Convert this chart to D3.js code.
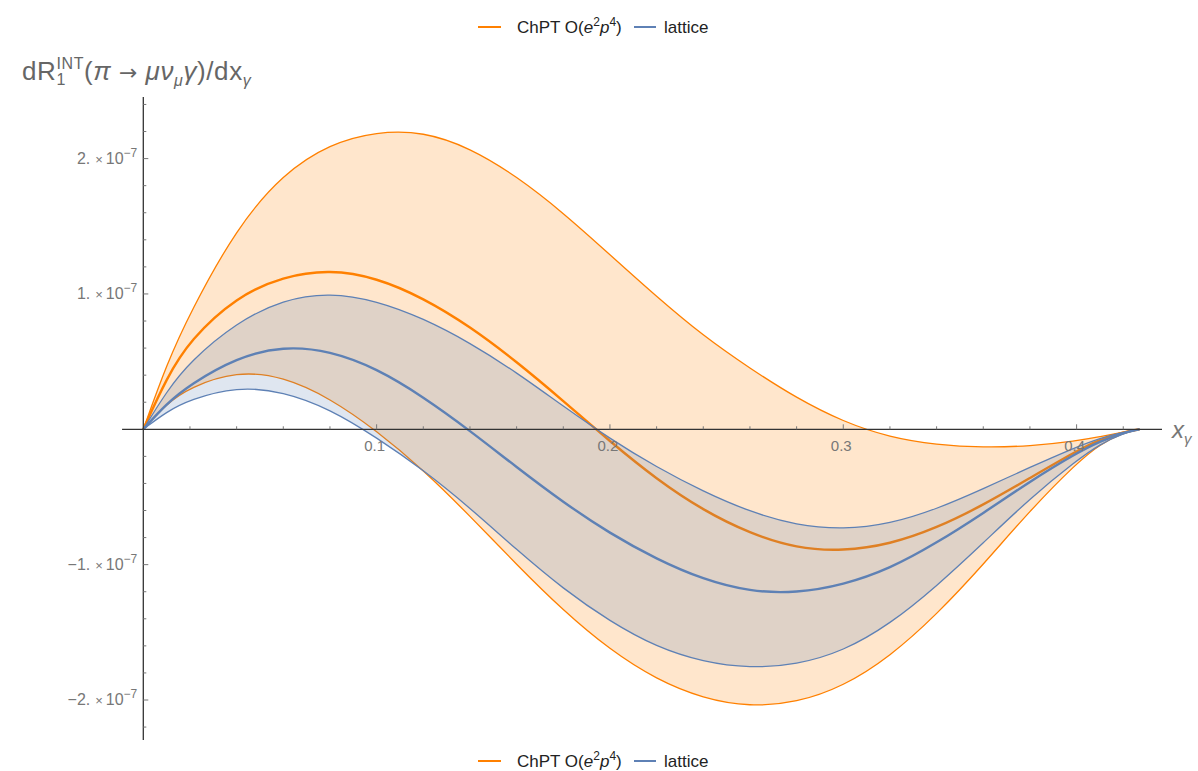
<!DOCTYPE html>
<html lang="en">
<head>
<meta charset="UTF-8">
<title>dR1 INT pi -> mu nu gamma</title>
<script src="https://d3js.org/d3.v7.min.js"></script>
<style>
  body { margin: 0; background: #fff; font-family: "Liberation Sans", Arial, sans-serif; }
  text { font-family: "Liberation Sans", Arial, sans-serif; }
</style>
</head>
<body>
<div id="chart"></div>
<script>
// photon energy fraction x_gamma
const xGamma = [0, 0.01, 0.02, 0.04, 0.06, 0.08, 0.10, 0.12, 0.14, 0.16, 0.18, 0.20,
  0.22, 0.24, 0.26, 0.28, 0.30, 0.32, 0.34, 0.36, 0.38, 0.40, 0.41, 0.42, 0.427];

// values in units of 1e-7
const chptHigh = [0, 0.48, 0.86, 1.49, 1.89, 2.11, 2.20, 2.20, 2.08, 1.87, 1.60, 1.29,
  0.98, 0.69, 0.45, 0.23, 0.055, -0.06, -0.115, -0.135, -0.125, -0.085, -0.055, -0.02, 0];
const chptMid = [0, 0.38, 0.66, 0.98, 1.13, 1.18, 1.12, 0.97, 0.76, 0.50, 0.21, -0.09,
  -0.37, -0.60, -0.77, -0.88, -0.90, -0.85, -0.73, -0.56, -0.36, -0.16, -0.075, -0.02, 0];
const chptLow = [0, 0.19, 0.31, 0.43, 0.39, 0.23, -0.01, -0.30, -0.64, -1.00, -1.34, -1.63,
  -1.85, -1.99, -2.05, -2.02, -1.90, -1.68, -1.37, -1.00, -0.60, -0.25, -0.11, -0.025, 0];

const latHigh = [0, 0.28, 0.50, 0.79, 0.96, 1.01, 0.95, 0.82, 0.64, 0.42, 0.17, -0.07,
  -0.28, -0.46, -0.61, -0.71, -0.74, -0.70, -0.59, -0.44, -0.28, -0.13, -0.065, -0.02, 0];
const latMid = [0, 0.19, 0.33, 0.53, 0.615, 0.58, 0.45, 0.24, -0.01, -0.28, -0.54, -0.77,
  -0.96, -1.11, -1.20, -1.21, -1.15, -1.03, -0.84, -0.62, -0.385, -0.175, -0.09, -0.025, 0];
const latLow = [0, 0.13, 0.22, 0.315, 0.28, 0.15, -0.06, -0.30, -0.58, -0.89, -1.18, -1.42,
  -1.61, -1.72, -1.765, -1.74, -1.64, -1.44, -1.16, -0.84, -0.51, -0.23, -0.11, -0.03, 0];

const xMajor = [0.1, 0.2, 0.3, 0.4];
const xMinor = [0.02, 0.04, 0.06, 0.08, 0.12, 0.14, 0.16, 0.18, 0.22, 0.24, 0.26, 0.28,
  0.32, 0.34, 0.36, 0.38, 0.42];
const yMajor = [-2, -1, 1, 2];
const yMinor = [-2.2, -1.8, -1.6, -1.4, -1.2, -0.8, -0.6, -0.4, -0.2,
  0.2, 0.4, 0.6, 0.8, 1.2, 1.4, 1.6, 1.8, 2.2, 2.4];

const ORANGE = "#ff8000", BLUE = "#5e81b5";
const width = 1198, height = 771;
const E = 1e-7;

const svg = d3.select("#chart").append("svg")
  .attr("width", width).attr("height", height);

const x = d3.scaleLinear().domain([0, 0.4]).range([143.3, 1076.6]);
const y = d3.scaleLinear().domain([-2 * E, 2 * E]).range([700, 158.6]);

const smooth = d3.curveBasis;

function band(lo, hi, color) {
  const pts = xGamma.map((v, i) => ({ x: v, lo: lo[i], hi: hi[i] }));
  const area = d3.area()
    .x(d => x(d.x)).y0(d => y(d.lo * E)).y1(d => y(d.hi * E))
    .curve(smooth);
  svg.append("path").datum(pts).attr("d", area)
    .attr("fill", color).attr("fill-opacity", 0.2).attr("stroke", "none");
}
function curve(vals, color, w) {
  const line = d3.line()
    .x((d, i) => x(xGamma[i])).y(d => y(d * E))
    .curve(smooth);
  svg.append("path").datum(vals).attr("d", line)
    .attr("fill", "none").attr("stroke", color).attr("stroke-width", w)
    .attr("stroke-linejoin", "round");
}

band(chptLow, chptHigh, ORANGE);
curve(chptHigh, ORANGE, 1.3);
curve(chptLow, ORANGE, 1.3);
curve(chptMid, ORANGE, 2.4);

band(latLow, latHigh, BLUE);
curve(latHigh, BLUE, 1.3);
curve(latLow, BLUE, 1.3);
curve(latMid, BLUE, 2.4);

// axes
const axisColor = "#333";
svg.append("line").attr("x1", x(-0.0091)).attr("x2", x(0.4366))
  .attr("y1", y(0)).attr("y2", y(0)).attr("stroke", axisColor).attr("stroke-width", 1.3);
svg.append("line").attr("x1", x(0)).attr("x2", x(0))
  .attr("y1", y(2.456 * E)).attr("y2", y(-2.295 * E))
  .attr("stroke", axisColor).attr("stroke-width", 1.3);

const gx = svg.append("g");
gx.selectAll(".xmaj").data(xMajor).enter().append("line")
  .attr("x1", d => x(d)).attr("x2", d => x(d))
  .attr("y1", y(0)).attr("y2", y(0) - 5).attr("stroke", "#777").attr("stroke-width", 1);
gx.selectAll(".xmin").data(xMinor).enter().append("line")
  .attr("x1", d => x(d)).attr("x2", d => x(d))
  .attr("y1", y(0)).attr("y2", y(0) - 3).attr("stroke", "#777").attr("stroke-width", 1);
gx.selectAll(".xlab").data(xMajor).enter().append("text")
  .attr("x", d => x(d) - 2).attr("y", y(0) + 22)
  .attr("text-anchor", "middle").attr("font-size", 15).attr("fill", "#777")
  .text(d => d.toFixed(1));

const gy = svg.append("g");
gy.selectAll(".ymaj").data(yMajor).enter().append("line")
  .attr("x1", x(0)).attr("x2", x(0) + 5)
  .attr("y1", d => y(d * E)).attr("y2", d => y(d * E)).attr("stroke", "#777");
gy.selectAll(".ymin").data(yMinor).enter().append("line")
  .attr("x1", x(0)).attr("x2", x(0) + 3)
  .attr("y1", d => y(d * E)).attr("y2", d => y(d * E)).attr("stroke", "#777");
const ylab = gy.selectAll(".ylab").data(yMajor).enter().append("text")
  .attr("x", x(0) - 6).attr("y", d => y(d * E) + 5)
  .attr("text-anchor", "end").attr("font-size", 16).attr("fill", "#777");
ylab.append("tspan").text(d => (d < 0 ? "\u2212" : "") + Math.abs(d) + ".");
ylab.append("tspan").attr("font-size", 13).attr("dx", 5).text("\u00d7");
ylab.append("tspan").attr("dx", 3).text("10");
ylab.append("tspan").attr("font-size", 12).attr("dy", -7).text("\u22127");

// y axis title
const yt = svg.append("text").attr("x", 22).attr("y", 80)
  .attr("font-size", 26).attr("fill", "#666").attr("letter-spacing", 0.6);
yt.append("tspan").text("dR");
yt.append("tspan").attr("font-size", 16).attr("dy", 5).text("1");
yt.append("tspan").attr("font-size", 16).attr("dx", -9.5).attr("dy", -16).text("INT");
yt.append("tspan").attr("dy", 11).text("(");
yt.append("tspan").attr("font-style", "italic").text("\u03c0");
yt.append("tspan").attr("font-family", "DejaVu Sans").attr("font-size", 22).text(" \u2192 ");
yt.append("tspan").attr("font-style", "italic").text("\u03bc\u03bd");
yt.append("tspan").attr("font-size", 16).attr("font-style", "italic").attr("dy", 6).text("\u03bc");
yt.append("tspan").attr("font-style", "italic").attr("dy", -6).text("\u03b3");
yt.append("tspan").text(")/dx");
yt.append("tspan").attr("font-size", 16).attr("font-style", "italic").attr("dy", 6).text("\u03b3");

// x axis title
const xt = svg.append("text").attr("x", 1172).attr("y", 438)
  .attr("font-size", 24).attr("fill", "#777");
xt.append("tspan").attr("font-style", "italic").text("x");
xt.append("tspan").attr("font-size", 15).attr("font-style", "italic").attr("dy", 6).text("\u03b3");

// legends
function legend(cy) {
  const g = svg.append("g");
  g.append("line").attr("x1", 478).attr("x2", 501).attr("y1", cy).attr("y2", cy)
    .attr("stroke", ORANGE).attr("stroke-width", 2);
  const t = g.append("text").attr("x", 517).attr("y", cy + 6)
    .attr("font-size", 17).attr("fill", "#222");
  t.append("tspan").text("ChPT O(");
  t.append("tspan").attr("font-style", "italic").text("e");
  t.append("tspan").attr("font-size", 12).attr("dy", -7).text("2");
  t.append("tspan").attr("font-style", "italic").attr("dy", 7).text("p");
  t.append("tspan").attr("font-size", 12).attr("dy", -7).text("4");
  t.append("tspan").attr("dy", 7).text(")");
  g.append("line").attr("x1", 634).attr("x2", 656).attr("y1", cy).attr("y2", cy)
    .attr("stroke", BLUE).attr("stroke-width", 2);
  g.append("text").attr("x", 664).attr("y", cy + 6)
    .attr("font-size", 17).attr("fill", "#222").text("lattice");
}
legend(27);
legend(761);
</script>
</body>
</html>
